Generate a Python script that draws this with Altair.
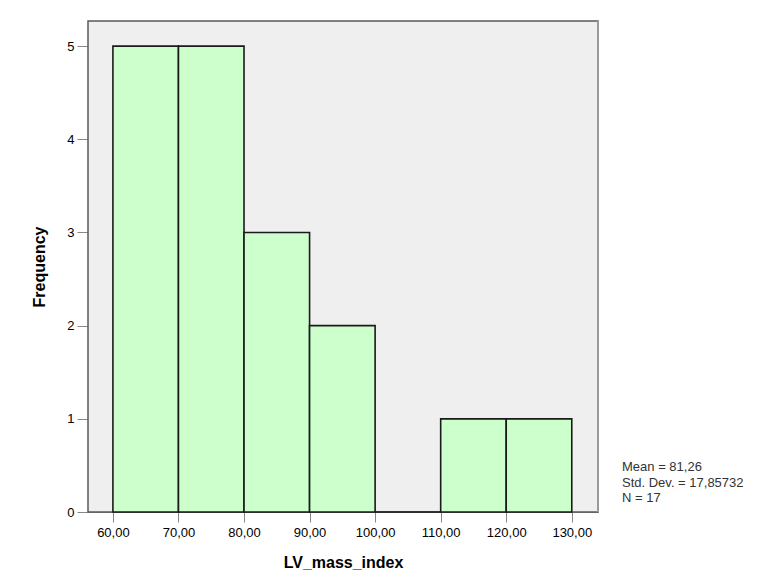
import altair as alt
import pandas as pd

bin_start = [60, 70, 80, 90, 100, 110, 120]
bin_end = [70, 80, 90, 100, 110, 120, 130]
counts = [5, 5, 3, 2, 0, 1, 1]
x_ticks = [60, 70, 80, 90, 100, 110, 120, 130]
y_ticks = [0, 1, 2, 3, 4, 5]
stats = ["Mean = 81,26", "Std. Dev. = 17,85732", "N = 17"]
x_title = "LV_mass_index"
y_title = "Frequency"

df = pd.DataFrame({"start": bin_start, "end": bin_end, "count": counts,
                   "base": [0] * len(counts)})
stats_df = pd.DataFrame({"txt": ["\n".join(stats)]})

FONT = "Liberation Sans"
W, H = 510, 491

panel = alt.Chart(pd.DataFrame({"k": [0]})).mark_rect(
    fill="#efefef", stroke="#5a5a5a", strokeWidth=1.5
).encode(
    x=alt.value(0), x2=alt.value(W), y=alt.value(0), y2=alt.value(H),
)

right_edge = alt.Chart(pd.DataFrame({"k": [0]})).mark_rule(
    color="#9a9a9a", strokeWidth=2
).encode(
    x=alt.value(W), y=alt.value(0), y2=alt.value(H),
)

bars = alt.Chart(df).mark_rect(fill="#ccffcc", stroke="#1a1a1a", strokeWidth=1.6).encode(
    x=alt.X(
        "start:Q",
        scale=alt.Scale(domain=[56.2, 134.0], nice=False, zero=False),
        axis=alt.Axis(
            values=x_ticks, title=x_title, grid=False,
            labelExpr="replace(format(datum.value, '.2f'), '.', ',')",
            tickSize=10, labelPadding=4, labelFontSize=13,
            titleFontSize=16, titleFontWeight="bold", titleFont=FONT,
            titleY=50, titleBaseline="middle",
        ),
    ),
    x2="end:Q",
    y=alt.Y(
        "count:Q",
        scale=alt.Scale(domain=[0, 5.27], nice=False),
        axis=alt.Axis(
            values=y_ticks, title=y_title, grid=False, format="d",
            tickSize=11, labelPadding=3, labelFontSize=13,
            titleFontSize=16, titleFontWeight="bold", titleFont=FONT,
            titleX=-49, titleY=245.5, titleBaseline="middle", titleAlign="center", titleAngle=-90,
        ),
    ),
    y2="base:Q",
)

stats_text = alt.Chart(stats_df).mark_text(
    align="left", baseline="middle", font=FONT, fontSize=13, color="#333333",
    lineBreak="\n", lineHeight=15.5,
).encode(
    text="txt:N",
    x=alt.value(534),
    y=alt.value(446),
)

chart = alt.layer(panel, right_edge, bars, stats_text).properties(
    width=W, height=H,
    autosize=alt.AutoSizeParams(type="none"),
    padding={"left": 80, "top": 13, "right": 170, "bottom": 58},
).configure_view(
    stroke=None,
).configure_axis(
    domainColor="#333333", tickColor="#333333", labelColor="#333333",
    domainWidth=1.6, tickWidth=1.6,
    labelFont=FONT, titleColor="#111111",
).configure(background="white")

chart.save("out.html", embed_options={"renderer": "svg", "actions": False})
